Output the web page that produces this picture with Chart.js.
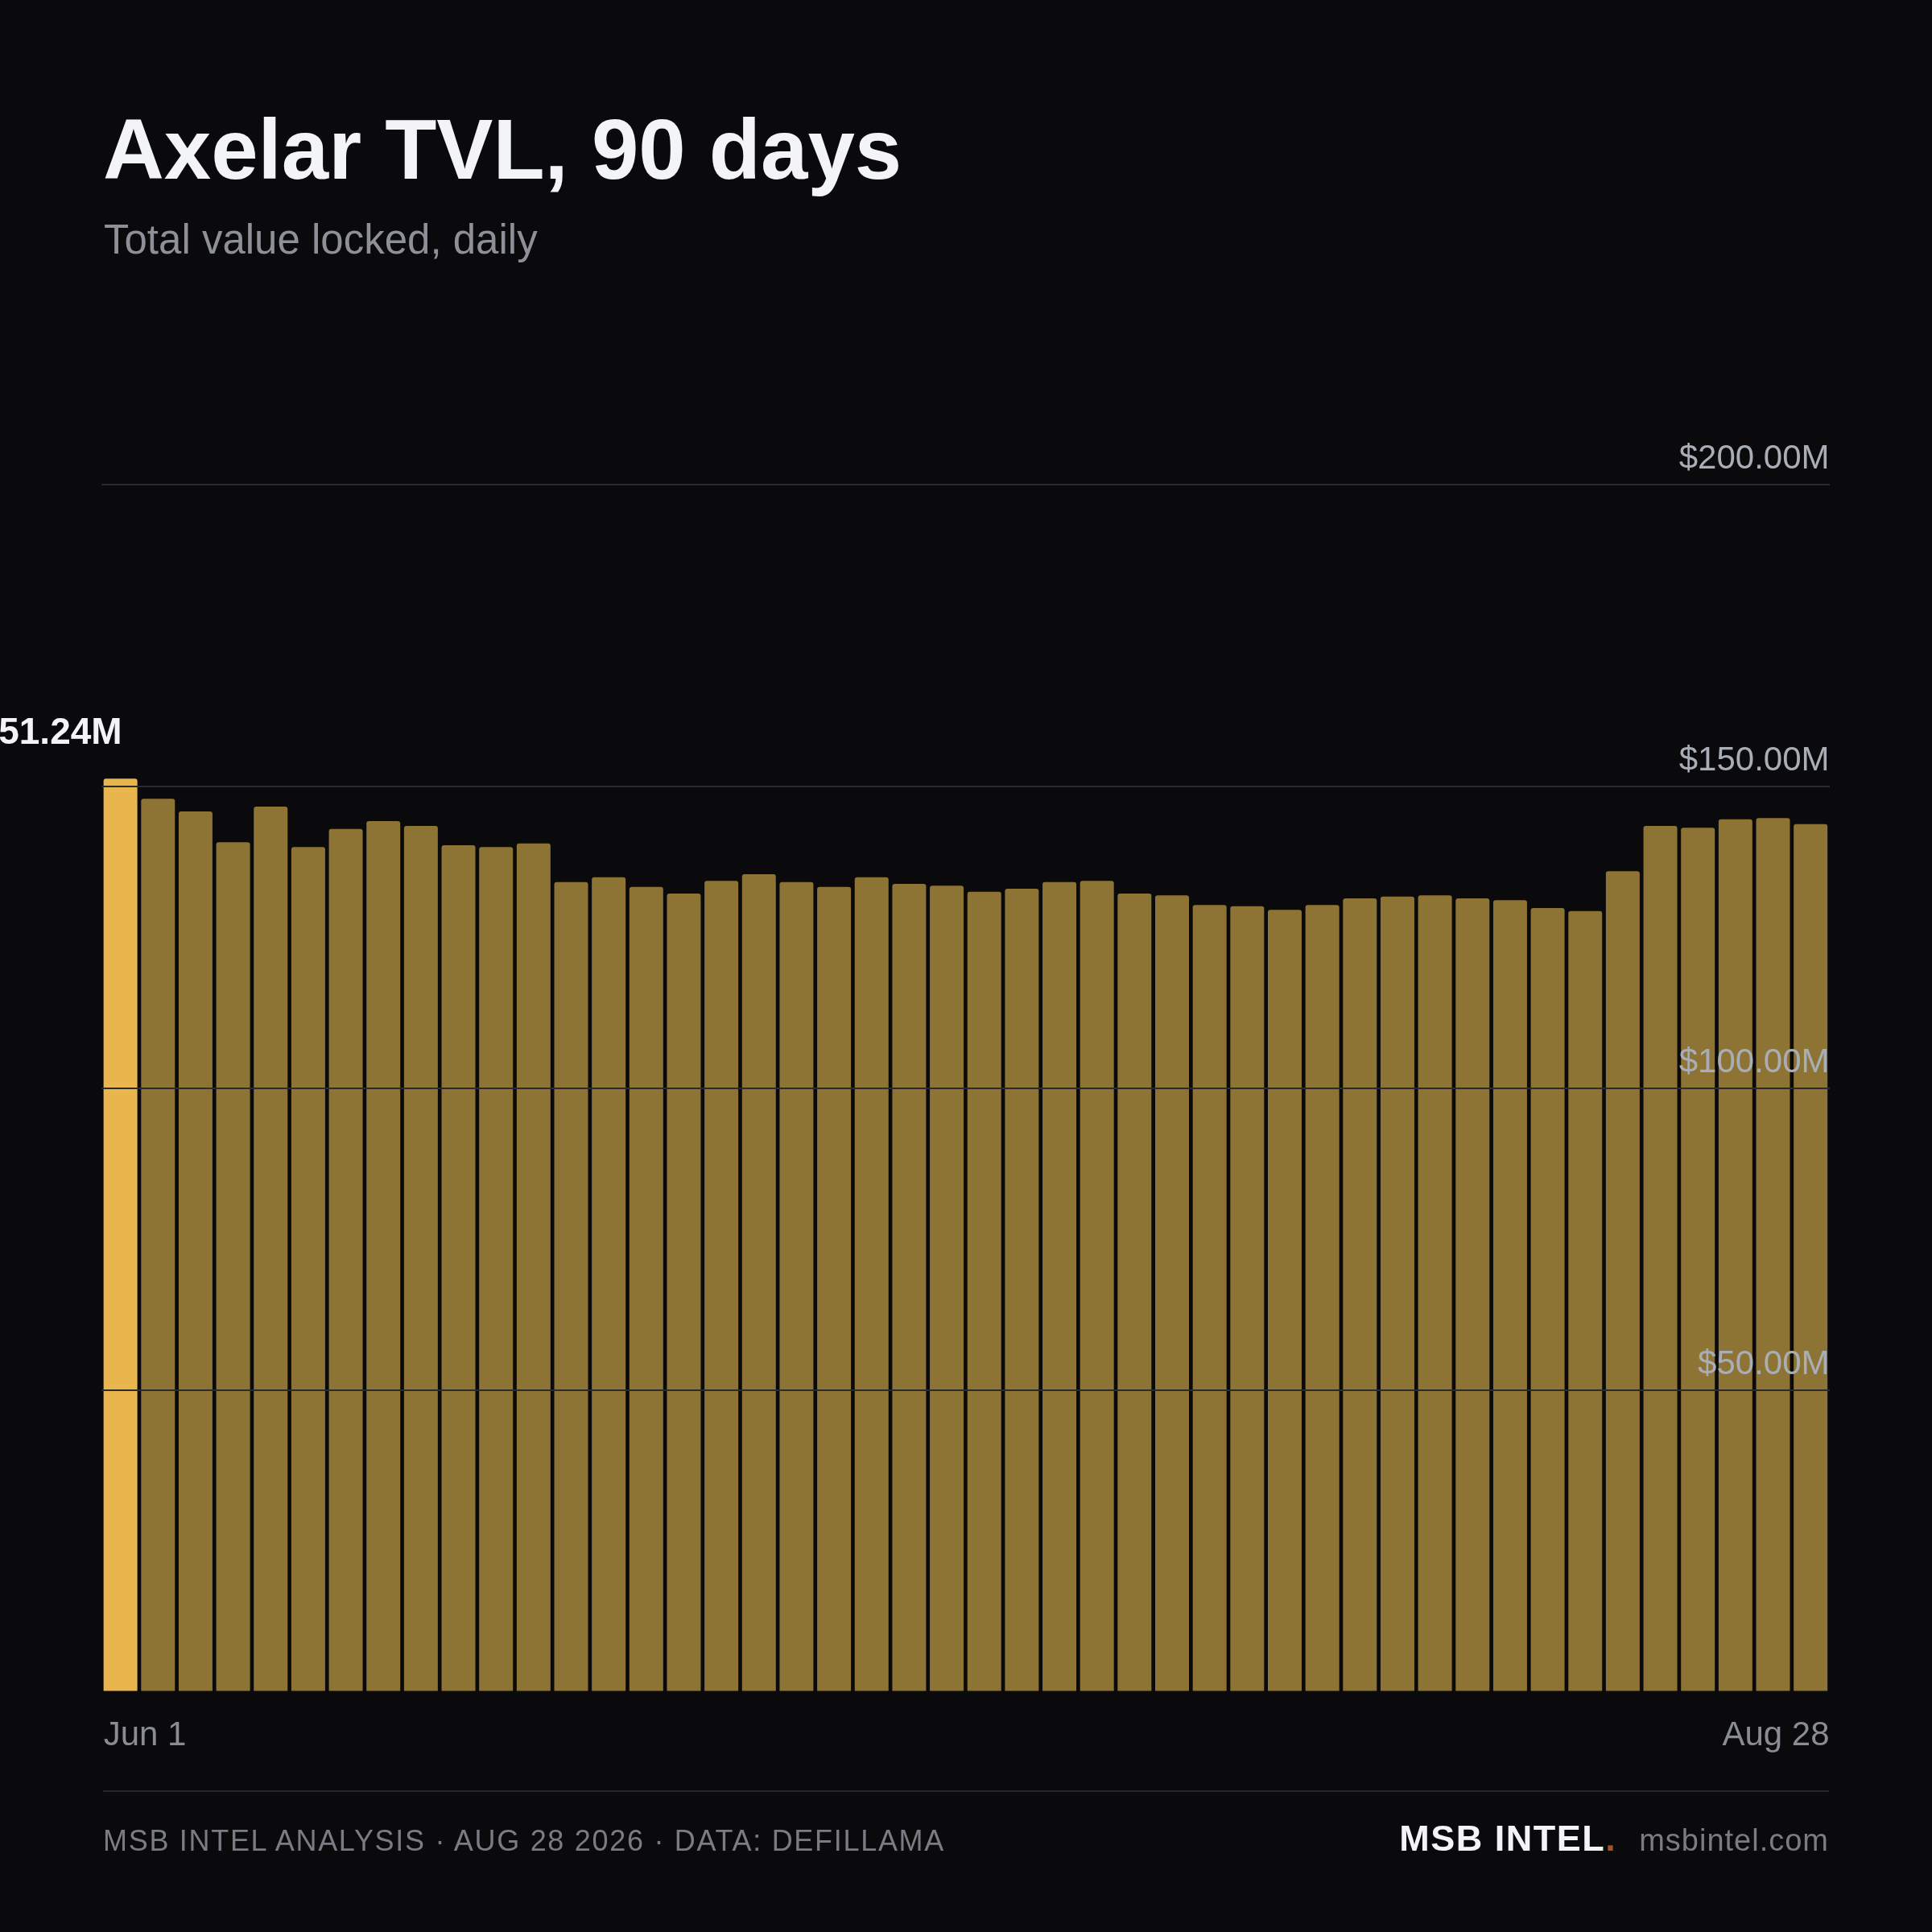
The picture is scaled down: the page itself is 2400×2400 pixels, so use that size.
<!DOCTYPE html>
<html lang="en">
<head>
  <meta charset="UTF-8" />
  <title>Axelar TVL, 90 days</title>
  <script src="https://cdn.jsdelivr.net/npm/chart.js"></script>
  <style>
    html, body { margin: 0; padding: 0; background: #0a0a0c; }
    #page { position: relative; width: 2400px; height: 2400px; background: #0a0a0c; overflow: hidden;
            font-family: "Liberation Sans", Arial, sans-serif; }
    #chartBox { position: absolute; left: 0; top: 0; width: 2400px; height: 2400px; }
    .txt { position: absolute; margin: 0; line-height: 1; white-space: nowrap; }
    #title { left: 128px; top: 133px; font-size: 105px; font-weight: bold; color: #f3f4f6; }
    #subtitle { left: 129px; top: 272px; font-size: 51px; color: #8e9098; }
    #rule { position: absolute; left: 128px; width: 2144px; top: 2224px; height: 2px; background: #26262c; }
    #source { left: 128px; top: 2269px; font-size: 36px; letter-spacing: 1.7px; color: #7a7c84; }
    #brand { right: 128px; top: 2261px; font-size: 45px; }
    #brand b { color: #f3f4f6; letter-spacing: 1.5px; }
    #brand .dot { color: #a0522d; }
    #brand .site { font-size: 38px; color: #7a7c84; margin-left: 28px; letter-spacing: 1px; }
  </style>
</head>
<body>
<div id="page">
  <div id="chartBox"><canvas id="tvlChart"></canvas></div>
  <h1 class="txt" id="title">Axelar TVL, 90 days</h1>
  <div class="txt" id="subtitle">Total value locked, daily</div>
  <div id="rule"></div>
  <div class="txt" id="source">MSB INTEL ANALYSIS · AUG 28 2026 · DATA: DEFILLAMA</div>
  <div class="txt" id="brand"><b>MSB INTEL</b><b class="dot">.</b><span class="site">msbintel.com</span></div>
</div>

<script>
  // sampled days (every other day)
  const days = [
    'Jun 1', 'Jun 3', 'Jun 5', 'Jun 7', 'Jun 9', 'Jun 11', 'Jun 13', 'Jun 15', 'Jun 17', 'Jun 19',
    'Jun 21', 'Jun 23', 'Jun 25', 'Jun 27', 'Jun 29', 'Jul 1', 'Jul 3', 'Jul 5', 'Jul 7', 'Jul 9',
    'Jul 11', 'Jul 13', 'Jul 15', 'Jul 17', 'Jul 19', 'Jul 21', 'Jul 23', 'Jul 25', 'Jul 27', 'Jul 29',
    'Jul 31', 'Aug 1', 'Aug 3', 'Aug 5', 'Aug 7', 'Aug 9', 'Aug 11', 'Aug 13', 'Aug 15', 'Aug 17',
    'Aug 19', 'Aug 21', 'Aug 23', 'Aug 25', 'Aug 27', 'Aug 28'
  ];

  // TVL in $M
  const tvl = [
    151.24, 147.9, 145.8, 140.7, 146.6, 139.9, 142.9, 144.2, 143.4, 140.2,
    139.9, 140.5, 134.1, 134.9, 133.3, 132.2, 134.3, 135.4, 134.1, 133.3,
    134.9, 133.8, 133.5, 132.5, 133.0, 134.1, 134.3, 132.2, 131.9, 130.3,
    130.1, 129.5, 130.3, 131.4, 131.7, 131.9, 131.4, 131.1, 129.8, 129.3,
    135.9, 143.4, 143.1, 144.5, 144.7, 143.7
  ];

  const yTicks = [0, 50, 100, 150, 200];
  const highlightIndex = 0;

  const fontFamily = '"Liberation Sans", Arial, sans-serif';

  // first / last date under the bars + value label on highlighted bar
  const extrasPlugin = {
    id: 'extras',
    afterDraw(chart) {
      const ctx = chart.ctx;
      const bars = chart.getDatasetMeta(0).data;
      const left = bars[0].x - bars[0].width / 2;
      const right = chart.chartArea.right;
      ctx.save();
      ctx.font = '42px ' + fontFamily;
      ctx.fillStyle = '#8a8c94';
      ctx.textBaseline = 'alphabetic';
      ctx.textAlign = 'left';
      ctx.fillText(days[0], left, 2168);
      ctx.textAlign = 'right';
      ctx.fillText(days[days.length - 1], right, 2168);

      const bar = bars[highlightIndex];
      ctx.font = 'bold 46px ' + fontFamily;
      ctx.fillStyle = '#f3f4f6';
      ctx.textAlign = 'right';
      ctx.fillText('$' + tvl[highlightIndex].toFixed(2) + 'M', bar.x + 2, bar.y - 43);
      ctx.restore();
    }
  };

  const ctx = document.getElementById('tvlChart').getContext('2d');
  new Chart(ctx, {
    type: 'bar',
    data: {
      labels: days,
      datasets: [{
        label: 'TVL',
        data: tvl,
        backgroundColor: tvl.map((v, i) => i === highlightIndex ? '#e9b64d' : '#8e7434'),
        borderRadius: 3,
        borderSkipped: 'start',
        categoryPercentage: 1.0,
        barPercentage: 0.9
      }]
    },
    options: {
      responsive: true,
      maintainAspectRatio: false,
      animation: false,
      devicePixelRatio: 1,
      layout: { padding: { left: 126.3, right: 127.5, top: 601.5, bottom: 298.5 } },
      plugins: {
        legend: { display: false },
        tooltip: { enabled: false }
      },
      scales: {
        x: { display: false },
        y: {
          position: 'right',
          min: yTicks[0],
          max: yTicks[yTicks.length - 1],
          border: { display: false },
          grid: {
            z: 1,
            drawTicks: false,
            lineWidth: 2,
            color: c => c.tick && c.tick.value === 0 ? 'rgba(0,0,0,0)' : '#2a2a31'
          },
          afterBuildTicks: scale => { scale.ticks = yTicks.map(v => ({ value: v })); },
          ticks: {
            z: 2,
            mirror: true,
            padding: 0,
            labelOffset: -31,
            color: '#a9adb5',
            font: { family: fontFamily, size: 42 },
            callback: v => v === 0 ? '' : '$' + v.toFixed(2) + 'M'
          }
        }
      }
    },
    plugins: [extrasPlugin]
  });
</script>
</body>
</html>
